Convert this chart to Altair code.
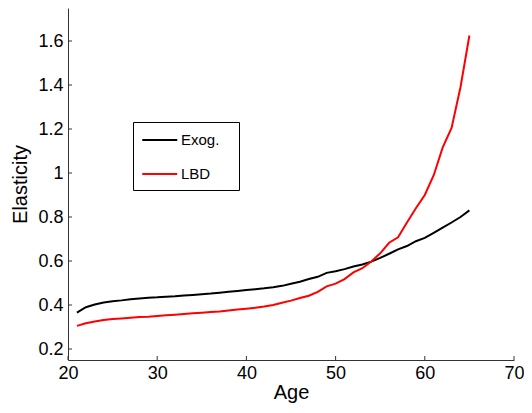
import altair as alt
import pandas as pd

ages = list(range(21, 66))
exog = [0.365, 0.390, 0.402, 0.411, 0.417, 0.421, 0.426, 0.430, 0.433, 0.435,
        0.438, 0.440, 0.443, 0.446, 0.449, 0.452, 0.456, 0.460, 0.464, 0.468,
        0.472, 0.476, 0.481, 0.487, 0.497, 0.506, 0.518, 0.528, 0.546, 0.553,
        0.563, 0.575, 0.584, 0.597, 0.614, 0.633, 0.653, 0.668, 0.690, 0.705,
        0.728, 0.752, 0.775, 0.800, 0.830]
lbd = [0.305, 0.317, 0.325, 0.332, 0.336, 0.339, 0.342, 0.345, 0.347, 0.350,
       0.353, 0.356, 0.359, 0.362, 0.365, 0.368, 0.371, 0.375, 0.379, 0.383,
       0.387, 0.393, 0.400, 0.410, 0.420, 0.432, 0.442, 0.460, 0.485, 0.497,
       0.518, 0.548, 0.567, 0.598, 0.635, 0.683, 0.708, 0.775, 0.840, 0.900,
       0.990, 1.115, 1.205, 1.390, 1.625]
series_names = ["Exog.", "LBD"]
series_colors = ["#000000", "#ff0000"]
x_ticks = [20, 30, 40, 50, 60, 70]
y_ticks = [0.2, 0.4, 0.6, 0.8, 1.0, 1.2, 1.4, 1.6]

df = pd.DataFrame({
    "age": ages * 2,
    "value": exog + lbd,
    "series": [series_names[0]] * len(ages) + [series_names[1]] * len(ages),
})

W, H = 446, 352
axis_color = "#333333"
xscale = alt.Scale(domain=[20, 70], nice=False, zero=False)
yscale = alt.Scale(domain=[0.15, 1.75], nice=False, zero=False)

xaxis = alt.Axis(
    title="Age", values=x_ticks, format="d", tickSize=0, labelPadding=4,
    labelFontSize=18, titleFontSize=20, titleFontWeight="normal",
    titlePadding=0, grid=False, domainColor=axis_color, labelColor="#000000",
    titleColor="#000000", labelFlush=False)
yaxis = alt.Axis(
    title="Elasticity", values=y_ticks, format="~g", tickSize=0, labelPadding=5,
    labelFontSize=18, titleFontSize=20, titleFontWeight="normal",
    titlePadding=7, grid=False, domainColor=axis_color, labelColor="#000000",
    titleColor="#000000", labelFlush=False)

pad_chars = "\u2800"
lines = alt.Chart(df).mark_line(strokeWidth=2).encode(
    x=alt.X("age:Q", scale=xscale, axis=xaxis),
    y=alt.Y("value:Q", scale=yscale, axis=yaxis),
    color=alt.Color("series:N", scale=alt.Scale(domain=series_names, range=series_colors),
                    legend=alt.Legend(
                        title=None, orient="none", legendX=65, legendY=114,
                        symbolType="M-1,0H3", symbolStrokeWidth=2, symbolSize=306,
                        symbolFillColor="transparent",
                        labelFontSize=15, labelColor="#000000", strokeColor="#000000",
                        fillColor="#ffffff", padding=8, rowPadding=16, labelOffset=20,
                        labelExpr="datum.label + '" + pad_chars + "'",
                        labelLimit=200)),
)

xt = alt.Chart(pd.DataFrame({"age": x_ticks})).mark_rule(color=axis_color, strokeWidth=1).encode(
    x=alt.X("age:Q", scale=xscale, axis=xaxis),
    y=alt.value(H), y2=alt.value(H - 4),
)
yt = alt.Chart(pd.DataFrame({"value": y_ticks})).mark_rule(color=axis_color, strokeWidth=1).encode(
    y=alt.Y("value:Q", scale=yscale, axis=yaxis),
    x=alt.value(0), x2=alt.value(4),
)

chart = alt.layer(lines, xt, yt).properties(
    width=W, height=H,
    autosize=alt.AutoSizeParams(type="none"),
    padding={"left": 60, "top": 0, "right": 10, "bottom": 45},
).configure(font="Liberation Sans").configure_view(stroke=None)

chart.save("out.html", embed_options={"renderer": "svg", "actions": False})
